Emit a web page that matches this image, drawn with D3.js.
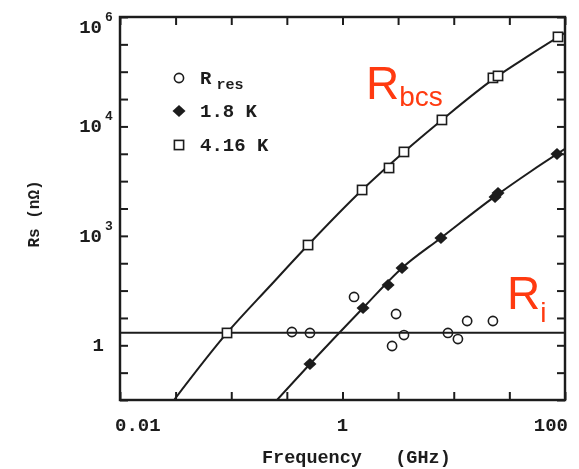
<!DOCTYPE html>
<html>
<head>
<meta charset="utf-8">
<script src="https://cdn.jsdelivr.net/npm/d3@7"></script>
<style>
  html, body { margin: 0; padding: 0; background: #fff; }
  svg { display: block; }
  .mono { font-family: "Liberation Mono", "DejaVu Sans Mono", monospace; font-weight: bold; fill: #1c1c1c; white-space: pre; }
  .tag { font-family: "Liberation Sans", Arial, sans-serif; fill: #ff3a10; }
</style>
</head>
<body>
<svg id="chart" width="579" height="469"></svg>
<script>
// Surface resistance Rs (nΩ) against frequency (GHz)

// Residual resistance measurements
const resFreq = [0.351, 0.51, 1.27, 3.03, 3.57, 2.79, 8.87, 10.9, 13.2, 22.5];
const resRs   = [1.75, 1.68, 7.64, 3.73, 1.54, 0.97, 1.68, 1.30, 2.78, 2.78];

// Measurements at 1.8 K
const k18Freq = [0.51, 1.53, 2.57, 3.43, 7.67, 23.5, 25, 84.7];
const k18Rs   = [0.455, 4.8, 12.6, 25.9, 91.6, 514, 608, 3140];

// Measurements at 4.16 K
const k416Freq = [0.0916, 0.49, 1.5, 2.62, 3.57, 7.83, 22.5, 25, 86.5];
const k416Rs   = [1.68, 68, 690, 1740, 3420, 13150, 77100, 83800, 433000];

// BCS curves through the measurements
const fit18Freq = [0.2576, 0.51, 1.53, 3.43, 7.67, 24.5, 48.4, 100];
const fit18Rs   = [0.1, 0.455, 4.8, 25.9, 91.6, 560, 1470, 3880];
const fit416Freq = [0.0306, 0.0916, 0.223, 0.49, 1.5, 3.57, 7.83, 23.5, 48.4, 100];
const fit416Rs   = [0.1, 1.68, 12.1, 68, 690, 3420, 13150, 77100, 203000, 512000];

// Residual resistance level
const residualRs = 1.7;

// Axis ticks (half-decade marks) and labels
const xTicks = [0.01, 0.0316, 0.1, 0.316, 1, 3.16, 10, 31.6, 100];
const yTicks = [0.1, 0.316, 1, 3.16, 10, 31.6, 100, 316, 1000, 3162, 1e4, 31623, 1e5, 316228, 1e6];
const xLabelValues = [0.01, 1, 100];
const xLabels = ["0.01", "1", "100"];
const yLabelValues = [1e6, 1e4, 1e2, 1];
const yLabelBase = ["10", "10", "10", "1"];
const yLabelExp = ["6", "4", "3", ""];

// Legend entries
const legendNames = ["R", "1.8 K", "4.16 K"];
const legendSubs = ["res", "", ""];
const legendKinds = ["circle", "diamond", "square"];

const svg = d3.select("#chart");
const pL = 120, pR = 565, pT = 17, pB = 400;

const x = d3.scaleLog().domain([0.01, 100]).range([pL, pR]);
const y = d3.scaleLog().domain([0.1, 1e6]).range([pB, pT]);

const defs = svg.append("defs");
defs.append("clipPath").attr("id", "plotClip")
  .append("rect").attr("x", pL).attr("y", pT).attr("width", pR - pL).attr("height", pB - pT);
defs.append("filter").attr("id", "soft")
  .attr("x", "-5%").attr("y", "-5%").attr("width", "110%").attr("height", "110%")
  .append("feGaussianBlur").attr("stdDeviation", 0.55);

const g = svg.append("g").attr("filter", "url(#soft)");
const ink = "#1c1c1c";

// inward ticks on all four sides
function styleAxis(sel) {
  sel.select(".domain").remove();
  sel.selectAll(".tick line").attr("stroke", ink).attr("stroke-width", 2);
  sel.selectAll(".tick text").remove();
}
g.append("g").attr("transform", `translate(0,${pB})`)
  .call(d3.axisBottom(x).tickValues(xTicks).tickSize(-8).tickSizeOuter(0)).call(styleAxis);
g.append("g").attr("transform", `translate(0,${pT})`)
  .call(d3.axisTop(x).tickValues(xTicks).tickSize(-8).tickSizeOuter(0)).call(styleAxis);
g.append("g").attr("transform", `translate(${pL},0)`)
  .call(d3.axisLeft(y).tickValues(yTicks).tickSize(-8).tickSizeOuter(0)).call(styleAxis);
g.append("g").attr("transform", `translate(${pR},0)`)
  .call(d3.axisRight(y).tickValues(yTicks).tickSize(-8).tickSizeOuter(0)).call(styleAxis);

// frame
g.append("rect").attr("x", pL).attr("y", pT).attr("width", pR - pL).attr("height", pB - pT)
  .attr("fill", "none").attr("stroke", ink).attr("stroke-width", 2.4);

// x tick labels
g.selectAll(".xlab").data(xLabelValues).join("text")
  .attr("class", "mono")
  .attr("x", (d, i) => i === 0 ? pL - 5 : (i === xLabelValues.length - 1 ? pR + 3 : x(d)))
  .attr("y", 431)
  .attr("text-anchor", (d, i) => i === 0 ? "start" : (i === xLabelValues.length - 1 ? "end" : "middle"))
  .attr("font-size", 19)
  .text((d, i) => xLabels[i]);

// y tick labels with exponents
g.selectAll(".ylab").data(yLabelValues).join("text")
  .attr("class", "mono")
  .attr("font-size", 19)
  .attr("text-anchor", "end")
  .attr("x", (d, i) => yLabelExp[i] ? 102 : 104)
  .attr("y", d => Math.max(y(d), pT + 10) + 6)
  .text((d, i) => yLabelBase[i]);
g.selectAll(".yexp").data(yLabelValues).join("text")
  .attr("class", "mono")
  .attr("font-size", 13)
  .attr("x", 105)
  .attr("y", d => Math.max(y(d), pT + 10) - 6)
  .text((d, i) => yLabelExp[i]);

// axis titles
g.append("text").attr("class", "mono").attr("font-size", 18.5)
  .attr("x", 262).attr("y", 463).text("Frequency   (GHz)");
g.append("text").attr("class", "mono").attr("font-size", 16)
  .attr("transform", "translate(39,214) rotate(-90)")
  .attr("text-anchor", "middle").text("Rs (nΩ)");

// curves
const plot = g.append("g").attr("clip-path", "url(#plotClip)");
const line = d3.line().x(d => x(d[0])).y(d => y(d[1])).curve(d3.curveMonotoneX);
plot.append("path").datum(fit416Freq.map((f, i) => [f, fit416Rs[i]]))
  .attr("d", line).attr("fill", "none").attr("stroke", ink).attr("stroke-width", 2);
plot.append("path").datum(fit18Freq.map((f, i) => [f, fit18Rs[i]]))
  .attr("d", line).attr("fill", "none").attr("stroke", ink).attr("stroke-width", 2);
plot.append("line")
  .attr("x1", pL).attr("x2", pR).attr("y1", y(residualRs)).attr("y2", y(residualRs))
  .attr("stroke", ink).attr("stroke-width", 2);

// markers
function marker(sel, kind, cx, cy) {
  if (kind === "circle") {
    sel.append("circle").attr("cx", cx).attr("cy", cy).attr("r", 4.6)
      .attr("fill", "none").attr("stroke", ink).attr("stroke-width", 1.6);
  } else if (kind === "diamond") {
    sel.append("path")
      .attr("d", `M${cx},${cy - 6}L${cx + 6.5},${cy}L${cx},${cy + 6}L${cx - 6.5},${cy}Z`)
      .attr("fill", ink);
  } else {
    sel.append("rect").attr("x", cx - 4.6).attr("y", cy - 4.6).attr("width", 9.2).attr("height", 9.2)
      .attr("fill", "#fff").attr("stroke", ink).attr("stroke-width", 1.6);
  }
}
const pts = g.append("g");
resFreq.forEach((f, i) => marker(pts, "circle", x(f), y(resRs[i])));
k18Freq.forEach((f, i) => marker(pts, "diamond", x(f), y(k18Rs[i])));
k416Freq.forEach((f, i) => marker(pts, "square", x(f), y(k416Rs[i])));

// legend
const legRows = [78, 111, 145];
legendNames.forEach((name, i) => {
  marker(g, legendKinds[i], 179, legRows[i]);
  const t = g.append("text").attr("class", "mono").attr("font-size", 19)
    .attr("x", 200).attr("y", legRows[i] + 6).text(name);
  if (legendSubs[i]) {
    t.append("tspan").attr("font-size", 15).attr("dx", 5).attr("dy", 5).text(legendSubs[i]);
  }
});

// curve tags
const tagB = svg.append("text").attr("class", "tag").attr("x", 366).attr("y", 99).attr("font-size", 46).text("R");
tagB.append("tspan").attr("font-size", 28).attr("dy", 7).text("bcs");
const tagI = svg.append("text").attr("class", "tag").attr("x", 507).attr("y", 309).attr("font-size", 46).text("R");
tagI.append("tspan").attr("font-size", 28).attr("dy", 13).text("i");
</script>
</body>
</html>
